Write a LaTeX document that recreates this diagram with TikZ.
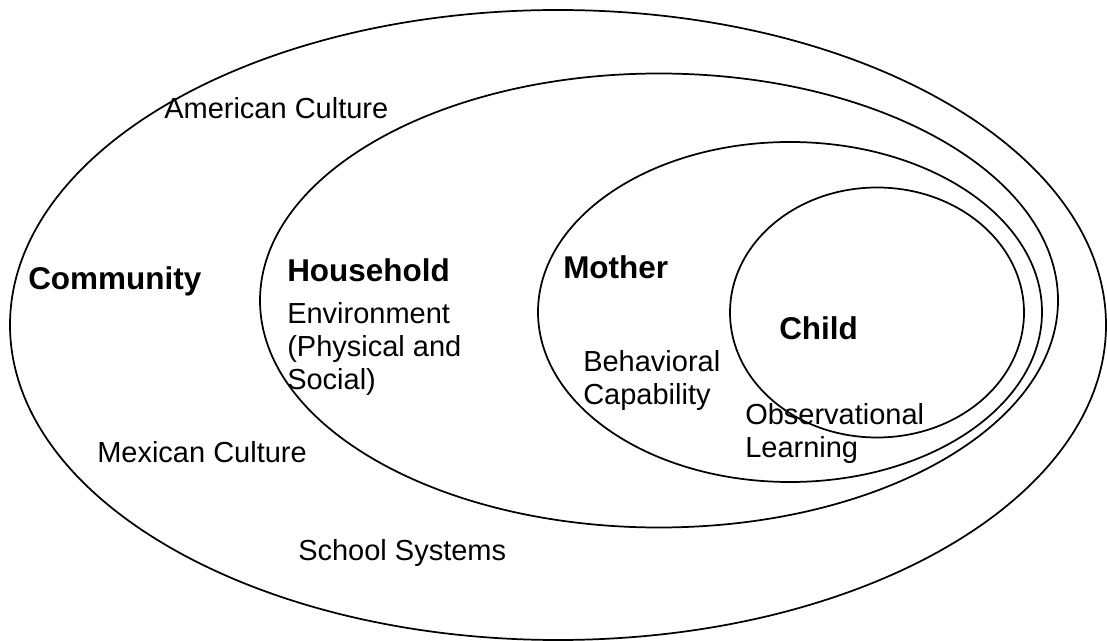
\documentclass[tikz,border=0pt]{standalone}
\usepackage{fontspec}
\setmainfont{Liberation Sans}
\begin{document}
\begin{tikzpicture}[
  x=0.75pt, y=-0.75pt,
  ring/.style={draw=black, line width=1.3pt},
  lbl/.style={anchor=base west, inner sep=0pt, align=left,
    font=\fontsize{21.75}{25}\selectfont},
  head/.style={lbl, font=\fontsize{23.6}{27}\selectfont\bfseries}
]
\useasboundingbox (0,0) rectangle (1107,641);

% nested spheres of influence
\draw[ring] (558,325) ellipse [x radius=548, y radius=315];   % community
\draw[ring] (659,300.5) ellipse [x radius=399, y radius=227]; % household
\draw[ring] (790,312) ellipse [x radius=252, y radius=170];   % mother
\draw[ring] (877,312.5) ellipse [x radius=147, y radius=125]; % child

% labels (multi-line nodes sit on the baseline of their last line)
\node[lbl]  (american)      at (164,119) {American Culture};
\node[head] (community)     at (28,290)  {Community};
\node[head] (household)     at (287,282) {Household};
\node[lbl]  (environment)   at (287,390) {Environment\\(Physical and\\Social)};
\node[head] (mother)        at (563,279) {Mother};
\node[head] (child)         at (779,340) {Child};
\node[lbl]  (behavioral)    at (583,405) {Behavioral\\Capability};
\node[lbl]  (observational) at (745,458) {Observational\\Learning};
\node[lbl]  (mexican)       at (97,463)  {Mexican Culture};
\node[lbl]  (school)        at (298,560) {School Systems};
\end{tikzpicture}
\end{document}
